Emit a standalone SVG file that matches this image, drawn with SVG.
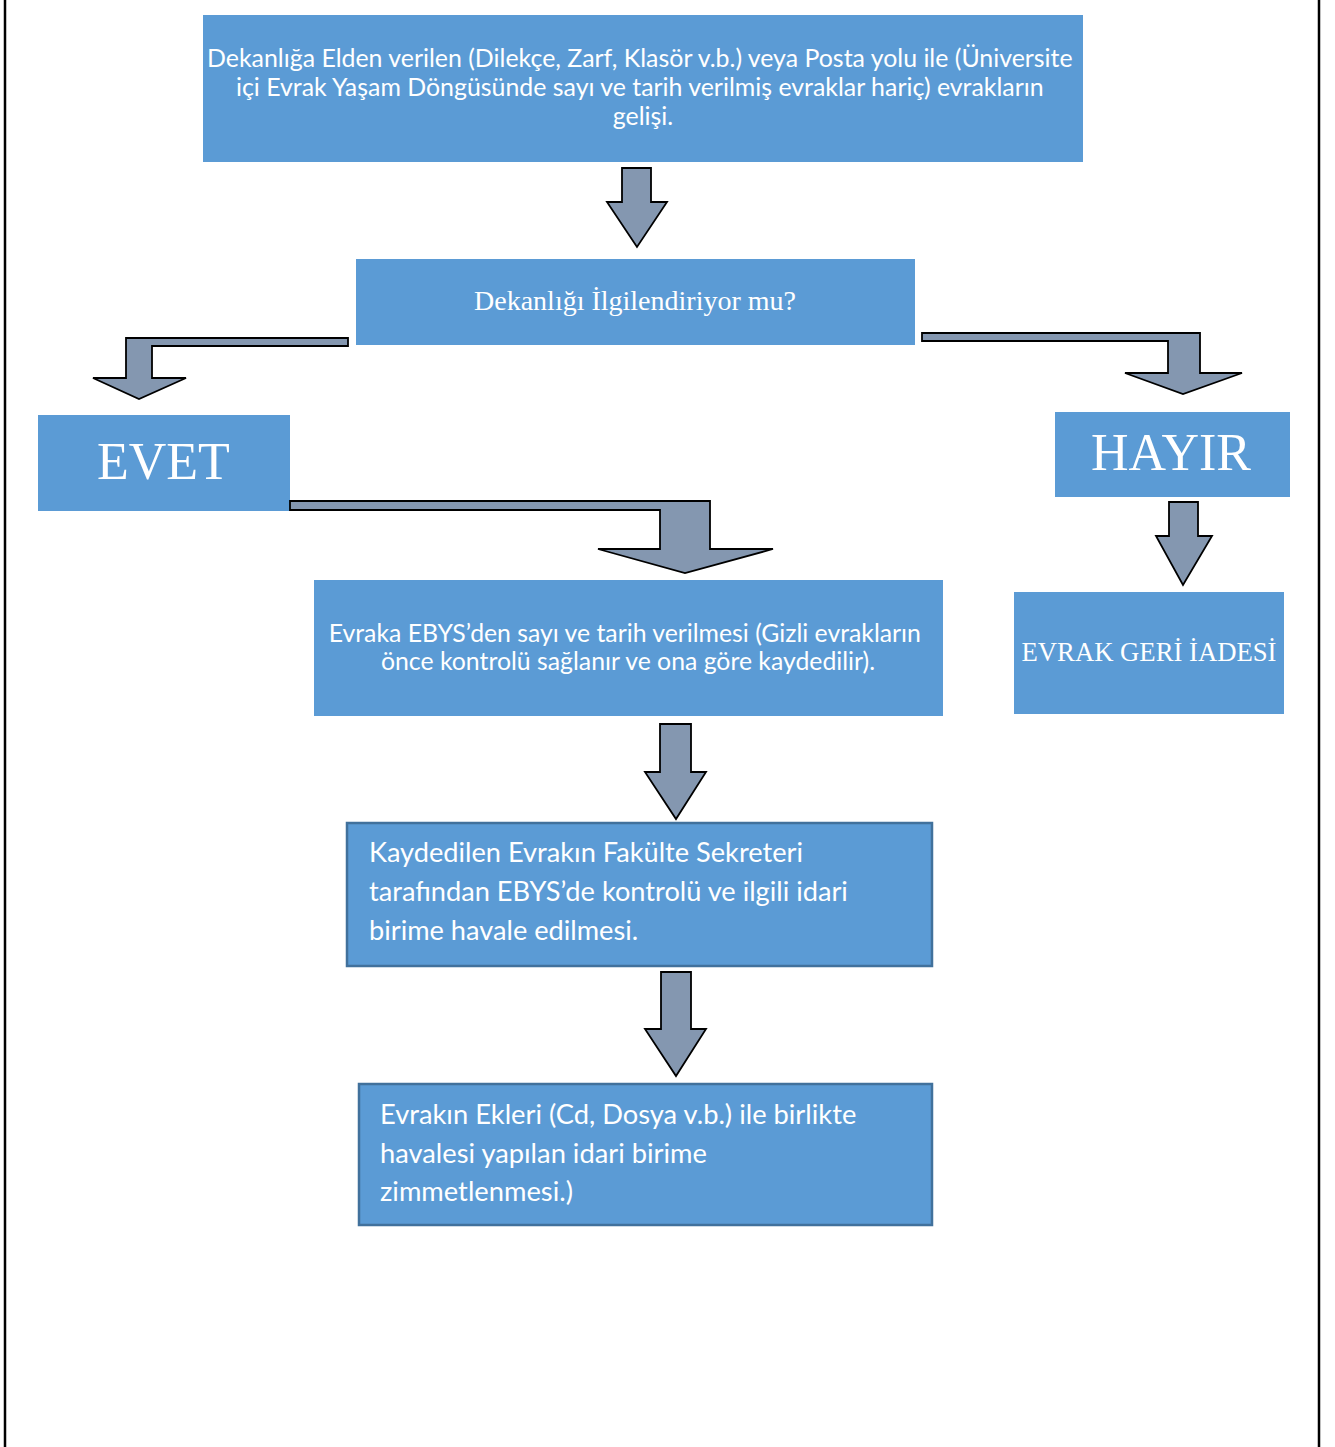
<svg xmlns="http://www.w3.org/2000/svg" width="1335" height="1447" viewBox="0 0 1335 1447">
<style>
.box{fill:#5B9BD5}
.boxb{fill:#5B9BD5;stroke:#41719C;stroke-width:2.5}
.arr{fill:#8497B0;stroke:#000;stroke-width:1.8;stroke-linejoin:miter}
.sans{font-family:Lato,"Open Sans","Liberation Sans",sans-serif;fill:#fff}
.serif{font-family:"Liberation Serif","Times New Roman",serif;fill:#fff}
</style>
<rect width="1335" height="1447" fill="#fff"/>
<g id="frame" stroke="#000" stroke-width="2.5">
<line x1="5" y1="0" x2="5" y2="1447"/>
<line x1="1319" y1="0" x2="1319" y2="1447"/>
</g>
<g id="n1">
<rect class="box" x="203" y="15" width="880" height="147"/>
<text class="sans" font-size="24.9" text-anchor="middle">
<tspan x="643" y="67">Dekanlığa Elden verilen (Dilekçe, Zarf, Klasör v.b.) veya Posta yolu ile (Üniversite</tspan>
<tspan x="643" y="96">içi Evrak Yaşam Döngüsünde sayı ve tarih verilmiş evraklar hariç) evrakların</tspan>
<tspan x="643" y="125">gelişi.</tspan>
</text>
</g>
<g id="n2">
<rect class="box" x="356" y="259" width="559" height="86"/>
<text class="serif" font-size="28" text-anchor="middle" x="635" y="310">Dekanlığı İlgilendiriyor mu?</text>
</g>
<g id="n3">
<rect class="box" x="38" y="415" width="252" height="96"/>
<text class="serif" font-size="52" x="97" y="479">EVET</text>
</g>
<g id="n4">
<rect class="box" x="1055" y="412" width="235" height="85"/>
<text class="serif" font-size="52" text-anchor="middle" x="1171" y="470">HAYIR</text>
</g>
<g id="n5">
<rect class="box" x="1014" y="592" width="270" height="122"/>
<text class="serif" font-size="26.7" text-anchor="middle" x="1149" y="661">EVRAK GERİ İADESİ</text>
</g>
<g id="n6">
<rect class="box" x="314" y="580" width="629" height="136"/>
<text class="sans" font-size="24.8" text-anchor="middle">
<tspan x="628" y="642">Evraka EBYS’den sayı ve tarih verilmesi (Gizli evrakların</tspan>
<tspan x="628" y="670">önce kontrolü sağlanır ve ona göre kaydedilir).</tspan>
</text>
</g>
<g id="n7">
<rect class="boxb" x="347" y="823" width="585" height="143"/>
<text class="sans" font-size="27.2">
<tspan x="369" y="862">Kaydedilen Evrakın Fakülte Sekreteri</tspan>
<tspan x="369" y="901">tarafından EBYS’de kontrolü ve ilgili idari</tspan>
<tspan x="369" y="940">birime havale edilmesi.</tspan>
</text>
</g>
<g id="n8">
<rect class="boxb" x="359" y="1084" width="573" height="141"/>
<text class="sans" font-size="27.3">
<tspan x="380" y="1124">Evrakın Ekleri (Cd, Dosya v.b.) ile birlikte</tspan>
<tspan x="380" y="1163">havalesi yapılan idari birime</tspan>
<tspan x="380" y="1201">zimmetlenmesi.)</tspan>
</text>
</g>
<g id="connectors">
<path class="arr" d="M622,168 L651,168 L651,202 L667,202 L637,247 L607,202 L622,202 Z"/>
<path class="arr" d="M348,338 L126,338 L126,378 L93,378 L139,399 L186,378 L152,378 L152,346 L348,346 Z"/>
<path class="arr" d="M922,333 L1200,333 L1200,373 L1242,373 L1183,394 L1125,373 L1168,373 L1168,341 L922,341 Z"/>
<path class="arr" d="M290,501 L710,501 L710,549 L773,549 L685,573 L598,549 L660,549 L660,510 L290,510 Z"/>
<path class="arr" d="M1169,502 L1198,502 L1198,536 L1212,536 L1183,585 L1156,536 L1169,536 Z"/>
<path class="arr" d="M660,724 L691,724 L691,772 L706,772 L676,819 L645,772 L660,772 Z"/>
<path class="arr" d="M661,972 L691,972 L691,1029 L706,1029 L676,1076 L645,1029 L661,1029 Z"/>
</g>
</svg>
